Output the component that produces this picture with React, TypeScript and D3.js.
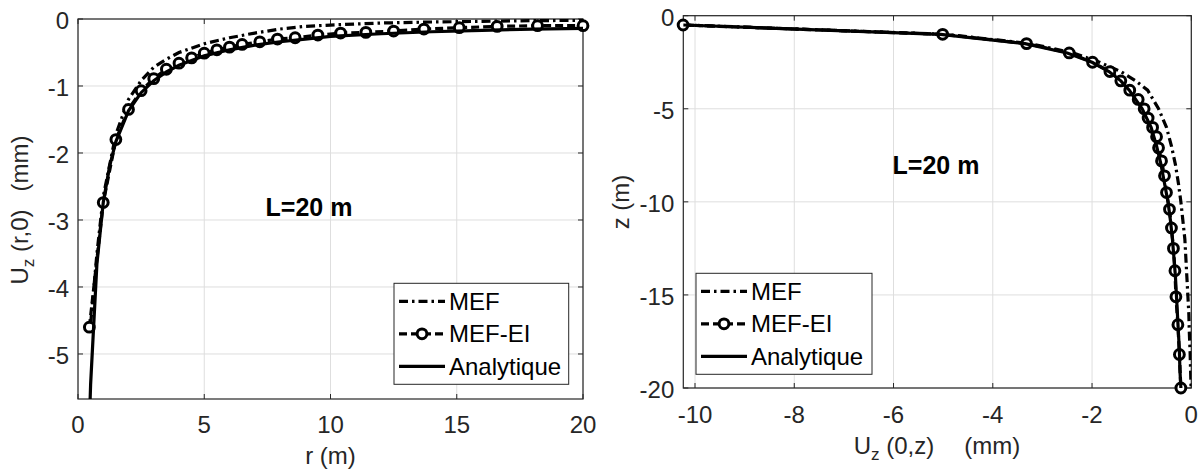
import React from 'react';
import * as d3 from 'd3';

// ---------- Left panel data: U_z(r,0) vs r ----------
const rTicks = [0, 5, 10, 15, 20];
const uLeftTicks = [0, -1, -2, -3, -4, -5];

const rMEF = [0.5, 0.75, 1, 1.5, 2, 2.5, 3, 3.5, 4, 5, 6, 7, 8, 9, 10, 12, 14, 16, 18, 20];
const uMEF = [-4.55, -3.5, -2.65, -1.72, -1.2, -0.92, -0.72, -0.6, -0.5, -0.37, -0.28, -0.21, -0.15, -0.11, -0.09, -0.06, -0.045, -0.035, -0.025, -0.02];

const rMEFEI = [0.45, 1.0, 1.5, 2.0, 2.5, 3.0, 3.5, 4.0, 4.5, 5.0, 5.5, 6.0, 6.5, 7.2, 7.9, 8.6, 9.5, 10.4, 11.4, 12.5, 13.7, 15.1, 16.6, 18.2, 20];
const uMEFEI = [-4.6, -2.74, -1.8, -1.35, -1.07, -0.89, -0.75, -0.66, -0.58, -0.51, -0.46, -0.42, -0.38, -0.34, -0.3, -0.28, -0.24, -0.21, -0.2, -0.18, -0.15, -0.13, -0.11, -0.1, -0.1];

const rAna = [0.42, 0.5, 0.75, 1, 1.25, 1.5, 2, 2.5, 3, 3.5, 4, 5, 6, 7, 8, 9, 10, 12, 14, 16, 18, 20];
const uAna = [-6.4, -5.45, -3.65, -2.74, -2.2, -1.83, -1.37, -1.1, -0.92, -0.79, -0.69, -0.55, -0.46, -0.39, -0.34, -0.3, -0.26, -0.22, -0.19, -0.17, -0.15, -0.14];

// ---------- Right panel data: z vs U_z(0,z) ----------
const uRightTicks = [-10, -8, -6, -4, -2, 0];
const zTicks = [0, -5, -10, -15, -20];

const zMEF = [-0.5, -1, -1.5, -2, -2.5, -3, -3.5, -4, -5, -6, -7, -8, -9, -10, -11, -12, -13, -14, -15, -16, -17, -18, -19, -20];
const uzMEF = [-10.2, -4.95, -3.25, -2.38, -1.85, -1.42, -1.12, -0.88, -0.66, -0.5, -0.4, -0.32, -0.26, -0.21, -0.17, -0.13, -0.11, -0.09, -0.07, -0.05, -0.04, -0.025, -0.015, -0.005];

const zMEFEI = [-0.5, -1, -1.5, -2, -2.5, -3, -3.5, -4, -4.5, -5, -5.5, -6, -6.5, -7.1, -7.8, -8.6, -9.5, -10.4, -11.4, -12.5, -13.7, -15.1, -16.6, -18.2, -20];
const uzMEFEI = [-10.24, -5.01, -3.32, -2.46, -1.99, -1.64, -1.42, -1.24, -1.07, -0.95, -0.87, -0.78, -0.7, -0.66, -0.6, -0.54, -0.5, -0.44, -0.4, -0.36, -0.33, -0.31, -0.27, -0.24, -0.21];

const zAna = [-0.5, -1, -1.5, -2, -2.5, -3, -3.5, -4, -5, -6, -7, -8, -9, -10, -11, -12, -13, -14, -15, -16, -17, -18, -19, -20];
const uzAna = [-10.24, -5.05, -3.35, -2.5, -2.0, -1.66, -1.42, -1.25, -0.99, -0.81, -0.7, -0.61, -0.54, -0.47, -0.42, -0.38, -0.35, -0.32, -0.3, -0.28, -0.26, -0.24, -0.23, -0.21];

const legendLabels = ['MEF', 'MEF-EI', 'Analytique'];
const annotation = 'L=20 m';

const FONT = '"Liberation Sans", Arial, Helvetica, sans-serif';
const AX = '#262626';
const GRID = '#dedede';
const LW = 3.2;
const DASHDOT = '9,4,2.5,4';
const DASHED = '8,4';
const MR = 4.9;
const MSW = 3;
const FS = 24;

type Pt = [number, number];

function zip(a: number[], b: number[]): Pt[] {
  return a.map((v, i) => [v, b[i]]);
}

interface PanelProps {
  id: string;
  x0: number; x1: number; y0: number; y1: number;
  xDomain: [number, number]; yDomain: [number, number];
  xTicks: number[]; yTicks: number[];
  mef: Pt[]; ei: Pt[]; ana: Pt[];
  legend: { x: number; y: number; w: number; h: number };
  note: { x: number; y: number };
  xTickY: number;
}

function Panel(p: PanelProps) {
  const xs = d3.scaleLinear().domain(p.xDomain).range([p.x0, p.x1]);
  const ys = d3.scaleLinear().domain(p.yDomain).range([p.y1, p.y0]);
  const line = d3.line<Pt>().x(d => xs(d[0])).y(d => ys(d[1]));
  const tl = 5;
  const rowH = 32.5;
  const lg = p.legend;
  return (
    <g>
      <defs>
        <clipPath id={p.id}>
          <rect x={p.x0} y={p.y0} width={p.x1 - p.x0} height={p.y1 - p.y0} />
        </clipPath>
      </defs>
      {p.xTicks.map(t => (
        <line key={'gx' + t} x1={xs(t)} x2={xs(t)} y1={p.y0} y2={p.y1} stroke={GRID} strokeWidth={1} />
      ))}
      {p.yTicks.map(t => (
        <line key={'gy' + t} x1={p.x0} x2={p.x1} y1={ys(t)} y2={ys(t)} stroke={GRID} strokeWidth={1} />
      ))}
      <rect x={p.x0} y={p.y0} width={p.x1 - p.x0} height={p.y1 - p.y0} fill="none" stroke={AX} strokeWidth={1.2} />
      {p.xTicks.map(t => (
        <g key={'tx' + t}>
          <line x1={xs(t)} x2={xs(t)} y1={p.y1} y2={p.y1 - tl} stroke={AX} strokeWidth={1} />
          <line x1={xs(t)} x2={xs(t)} y1={p.y0} y2={p.y0 + tl} stroke={AX} strokeWidth={1} />
          <text x={xs(t)} y={p.xTickY} textAnchor="middle" fontFamily={FONT} fontSize={FS} fill={AX}>{t}</text>
        </g>
      ))}
      {p.yTicks.map(t => (
        <g key={'ty' + t}>
          <line x1={p.x0} x2={p.x0 + tl} y1={ys(t)} y2={ys(t)} stroke={AX} strokeWidth={1} />
          <line x1={p.x1} x2={p.x1 - tl} y1={ys(t)} y2={ys(t)} stroke={AX} strokeWidth={1} />
          <text x={p.x0 - 9} y={ys(t) + 10} textAnchor="end" fontFamily={FONT} fontSize={FS} fill={AX}>{t}</text>
        </g>
      ))}
      <g clipPath={`url(#${p.id})`}>
        <path d={line(p.mef) || ''} fill="none" stroke="#000" strokeWidth={LW} strokeDasharray={DASHDOT} />
        <path d={line(p.ei) || ''} fill="none" stroke="#000" strokeWidth={LW} strokeDasharray={DASHED} />
      </g>
      {p.ei.map((d, i) => (
        <circle key={'m' + i} cx={xs(d[0])} cy={ys(d[1])} r={MR} fill="#fff" stroke="#000" strokeWidth={MSW} />
      ))}
      <g clipPath={`url(#${p.id})`}>
        <path d={line(p.ana) || ''} fill="none" stroke="#000" strokeWidth={LW} />
      </g>
      <text x={p.note.x} y={p.note.y} textAnchor="middle" fontFamily={FONT} fontWeight="bold" fontSize={25} fill="#000">{annotation}</text>
      <rect x={lg.x} y={lg.y} width={lg.w} height={lg.h} fill="#fff" stroke={AX} strokeWidth={1} />
      {legendLabels.map((lab, i) => {
        const cy = lg.y + 18 + i * rowH;
        const lx0 = lg.x + 5;
        const lx1 = lg.x + 51;
        return (
          <g key={lab}>
            <line x1={lx0} x2={lx1} y1={cy} y2={cy} stroke="#000" strokeWidth={LW}
              strokeDasharray={i === 0 ? DASHDOT : i === 1 ? DASHED : undefined} />
            {i === 1 && <circle cx={(lx0 + lx1) / 2} cy={cy} r={MR} fill="#fff" stroke="#000" strokeWidth={MSW} />}
            <text x={lg.x + 55} y={cy + 8.5} fontFamily={FONT} fontSize={FS} fill="#000">{lab}</text>
          </g>
        );
      })}
    </g>
  );
}

export default function App() {
  const L = { x0: 78, x1: 583, y0: 19, y1: 399 };
  const R = { x0: 683.3, x1: 1191.3, y0: 15.7, y1: 388 };
  return (
    <svg width={1201} height={470} style={{ position: 'absolute', left: 0, top: 0, background: '#fff' }}>
      <rect x={0} y={0} width={1201} height={470} fill="#fff" />
      <Panel id="clipL" {...L}
        xDomain={[0, 20]} yDomain={[-5.672, 0]}
        xTicks={rTicks} yTicks={uLeftTicks}
        mef={zip(rMEF, uMEF)} ei={zip(rMEFEI, uMEFEI)} ana={zip(rAna, uAna)}
        legend={{ x: 394, y: 283.3, w: 174.7, h: 101 }}
        note={{ x: 309, y: 216 }}
        xTickY={433} />
      <Panel id="clipR" {...R}
        xDomain={[-10.236, 0]} yDomain={[-20, 0]}
        xTicks={uRightTicks} yTicks={zTicks}
        mef={zip(uzMEF, zMEF)} ei={zip(uzMEFEI, zMEFEI)} ana={zip(uzAna, zAna)}
        legend={{ x: 696, y: 273.3, w: 176, h: 101 }}
        note={{ x: 936, y: 174 }}
        xTickY={423} />
      <text x={330.5} y={464} textAnchor="middle" fontFamily={FONT} fontSize={FS} fill={AX}>r (m)</text>
      <text transform="translate(28,210) rotate(-90)" textAnchor="middle" fontFamily={FONT} fontSize={FS} fill={AX}>
        <tspan>U</tspan>
        <tspan dy={6} fontSize={17}>z</tspan>
        <tspan dy={-6}> (r,0)</tspan>
        <tspan dx={18}>(mm)</tspan>
      </text>
      <text x={937} y={454} textAnchor="middle" fontFamily={FONT} fontSize={FS} fill={AX}>
        <tspan>U</tspan>
        <tspan dy={6} fontSize={17}>z</tspan>
        <tspan dy={-6}> (0,z)</tspan>
        <tspan dx={30}>(mm)</tspan>
      </text>
      <text transform="translate(629,202) rotate(-90)" textAnchor="middle" fontFamily={FONT} fontSize={FS} fill={AX}>z (m)</text>
    </svg>
  );
}
